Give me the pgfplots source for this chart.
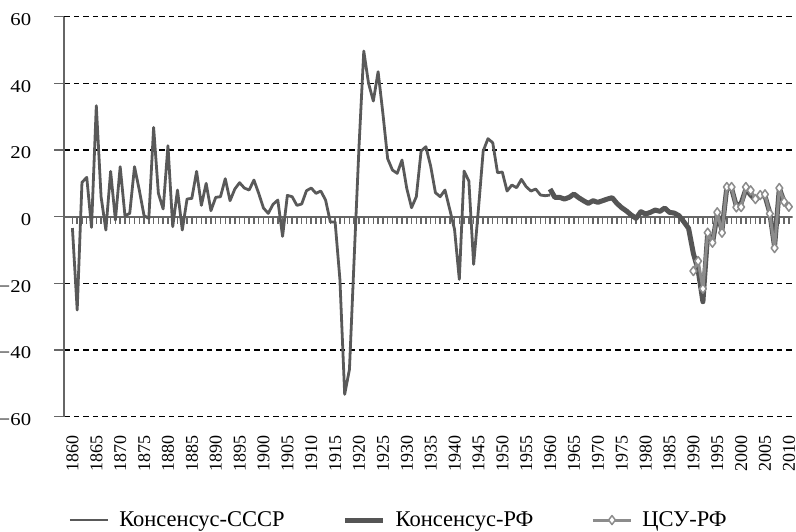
\documentclass[border=0pt]{standalone}
\usepackage{fontspec}
\setmainfont{Liberation Serif}
\newfontfamily\ytickfont{Liberation Serif}[FakeStretch=1.15]
\usepackage{pgfplots}
\pgfplotsset{compat=1.18}
\definecolor{cUSSR}{HTML}{595959}
\definecolor{cRF}{HTML}{555555}
\definecolor{cCSU}{HTML}{8C8C8C}
\definecolor{cAxis}{HTML}{666666}
\begin{document}
\begin{tikzpicture}
\path[use as bounding box] (-64.3bp,-115.3bp) rectangle (731.7bp,416.7bp);
% zero line with a small tick under every year
\begin{axis}[
  at={(0,0)}, anchor=south west,
  scale only axis, width=728.4bp, height=400bp,
  xmin=1858.3, xmax=2010.8, ymin=-60, ymax=60,
  axis lines=none, xtick=\empty, ytick=\empty,
]
\addplot[ycomb, no marks, cAxis, line width=1.5bp] coordinates {
(1860,-2.2) (1861,-2.2) (1862,-2.2) (1863,-2.2) (1864,-2.2) (1865,-2.2) (1866,-2.2) (1867,-2.2) (1868,-2.2) (1869,-2.2)
(1870,-2.2) (1871,-2.2) (1872,-2.2) (1873,-2.2) (1874,-2.2) (1875,-2.2) (1876,-2.2) (1877,-2.2) (1878,-2.2) (1879,-2.2)
(1880,-2.2) (1881,-2.2) (1882,-2.2) (1883,-2.2) (1884,-2.2) (1885,-2.2) (1886,-2.2) (1887,-2.2) (1888,-2.2) (1889,-2.2)
(1890,-2.2) (1891,-2.2) (1892,-2.2) (1893,-2.2) (1894,-2.2) (1895,-2.2) (1896,-2.2) (1897,-2.2) (1898,-2.2) (1899,-2.2)
(1900,-2.2) (1901,-2.2) (1902,-2.2) (1903,-2.2) (1904,-2.2) (1905,-2.2) (1906,-2.2) (1907,-2.2) (1908,-2.2) (1909,-2.2)
(1910,-2.2) (1911,-2.2) (1912,-2.2) (1913,-2.2) (1914,-2.2) (1915,-2.2) (1916,-2.2) (1917,-2.2) (1918,-2.2) (1919,-2.2)
(1920,-2.2) (1921,-2.2) (1922,-2.2) (1923,-2.2) (1924,-2.2) (1925,-2.2) (1926,-2.2) (1927,-2.2) (1928,-2.2) (1929,-2.2)
(1930,-2.2) (1931,-2.2) (1932,-2.2) (1933,-2.2) (1934,-2.2) (1935,-2.2) (1936,-2.2) (1937,-2.2) (1938,-2.2) (1939,-2.2)
(1940,-2.2) (1941,-2.2) (1942,-2.2) (1943,-2.2) (1944,-2.2) (1945,-2.2) (1946,-2.2) (1947,-2.2) (1948,-2.2) (1949,-2.2)
(1950,-2.2) (1951,-2.2) (1952,-2.2) (1953,-2.2) (1954,-2.2) (1955,-2.2) (1956,-2.2) (1957,-2.2) (1958,-2.2) (1959,-2.2)
(1960,-2.2) (1961,-2.2) (1962,-2.2) (1963,-2.2) (1964,-2.2) (1965,-2.2) (1966,-2.2) (1967,-2.2) (1968,-2.2) (1969,-2.2)
(1970,-2.2) (1971,-2.2) (1972,-2.2) (1973,-2.2) (1974,-2.2) (1975,-2.2) (1976,-2.2) (1977,-2.2) (1978,-2.2) (1979,-2.2)
(1980,-2.2) (1981,-2.2) (1982,-2.2) (1983,-2.2) (1984,-2.2) (1985,-2.2) (1986,-2.2) (1987,-2.2) (1988,-2.2) (1989,-2.2)
(1990,-2.2) (1991,-2.2) (1992,-2.2) (1993,-2.2) (1994,-2.2) (1995,-2.2) (1996,-2.2) (1997,-2.2) (1998,-2.2) (1999,-2.2)
(2000,-2.2) (2001,-2.2) (2002,-2.2) (2003,-2.2) (2004,-2.2) (2005,-2.2) (2006,-2.2) (2007,-2.2) (2008,-2.2) (2009,-2.2)
(2010,-2.2)
};
\addplot[cAxis, line width=2bp, no marks] coordinates {(1858.3,0) (2010.8,0)};
\end{axis}
\begin{axis}[
  at={(0,0)}, anchor=south west,
  scale only axis, width=728.4bp, height=400bp,
  xmin=1858.3, xmax=2010.8, ymin=-60, ymax=60,
  axis y line*=left, axis x line*=bottom,
  x axis line style={draw=none},
  y axis line style={cAxis, line width=2bp},
  ytick={-60,-40,-20,20,40,60},
  yticklabels={−60,−40,−20,20,40,60},
  extra y ticks={0}, extra y tick labels={0},
  extra y tick style={grid=none},
  yticklabel style={font=\ytickfont\fontsize{18bp}{19bp}\selectfont, inner sep=0pt, xshift=-23bp, yshift=-3bp},
  ytick style={cAxis, line width=1.5bp},
  tick align=outside, major tick length=10bp,
  xtick={1860,1865,...,2010},
  xticklabels={1860,1865,1870,1875,1880,1885,1890,1895,1900,1905,1910,1915,1920,1925,1930,1935,1940,1945,1950,1955,1960,1965,1970,1975,1980,1985,1990,1995,2000,2005,2010},
  xtick style={draw=none},
  xticklabel style={rotate=90, anchor=east, inner sep=0pt, text depth=0pt, font=\fontsize{18bp}{19bp}\selectfont},
  xticklabel shift=9bp,
  ymajorgrids,
  grid style={black, line width=1.2bp, dash pattern=on 5.5bp off 4bp},
  legend columns=3,
  legend style={draw=none, fill=none, at={(0.459,-0.2583)}, anchor=center,
    font=\fontsize{22.5bp}{24bp}\selectfont,
    /tikz/every odd column/.append style={column sep=8bp},
    /tikz/every even column/.append style={column sep=56bp},
    inner sep=0pt},
  legend image code/.code={\draw[mark repeat=2,mark phase=2,#1] plot coordinates {(0bp,0bp) (19bp,0bp) (38bp,0bp)};},
]
\addplot[cUSSR, line width=2.8bp, line join=round] coordinates {
(1860,-3.4) (1861,-28) (1862,10.3) (1863,11.8) (1864,-3.2) (1865,33.3) (1866,6) (1867,-4)
(1868,13.6) (1869,-1) (1870,15) (1871,0.3) (1872,1) (1873,15) (1874,8) (1875,0.3)
(1876,-0.5) (1877,26.8) (1878,7) (1879,2.3) (1880,21.3) (1881,-3) (1882,8) (1883,-4)
(1884,5.3) (1885,5.5) (1886,13.6) (1887,3.4) (1888,10) (1889,1.8) (1890,5.8) (1891,6)
(1892,11.4) (1893,4.8) (1894,8.3) (1895,10.2) (1896,8.6) (1897,8) (1898,11) (1899,7)
(1900,2.6) (1901,1) (1902,3.7) (1903,5) (1904,-5.9) (1905,6.4) (1906,6) (1907,3.4)
(1908,3.8) (1909,7.8) (1910,8.6) (1911,7) (1912,7.7) (1913,5) (1914,-1.6) (1915,-1.6)
(1916,-18.8) (1917,-53.3) (1918,-45.8) (1919,-12) (1920,21) (1921,49.7) (1922,40) (1923,34.7)
(1924,43.5) (1925,31) (1926,17.4) (1927,14) (1928,13) (1929,17) (1930,8.5) (1931,2.7)
(1932,6) (1933,19.7) (1934,21) (1935,15.2) (1936,7.2) (1937,6) (1938,8) (1939,2.2)
(1940,-3.8) (1941,-18.8) (1942,13.7) (1943,10.7) (1944,-14.3) (1945,2.2) (1946,19.7) (1947,23.4)
(1948,22.2) (1949,13.2) (1950,13.4) (1951,7.7) (1952,9.5) (1953,8.7) (1954,11.2) (1955,9)
(1956,7.7) (1957,8.3) (1958,6.5) (1959,6.3) (1960,6.5)
};
\addlegendentry{Консенсус-СССР}
\addplot[cRF, line width=5bp, line join=round] coordinates {
(1960,8.3) (1961,5.8) (1962,5.8) (1963,5.3) (1964,5.8) (1965,6.8) (1966,5.7) (1967,4.8)
(1968,4) (1969,4.8) (1970,4.3) (1971,4.8) (1972,5.3) (1973,5.7) (1974,4) (1975,2.7)
(1976,1.7) (1977,0.5) (1978,-0.5) (1979,1.5) (1980,0.8) (1981,1.3) (1982,2) (1983,1.6)
(1984,2.6) (1985,1.3) (1986,1.1) (1987,0.3) (1988,-1.5) (1989,-3.5) (1990,-11) (1991,-16)
(1992,-25.5) (1993,-5) (1994,-8) (1995,0.8) (1996,-4) (1997,8.7) (1998,8.5) (1999,3.2)
(2000,4) (2001,8.3) (2002,6.5) (2003,5) (2004,6.3) (2005,6.2) (2006,1.2) (2007,-9)
(2008,8.5) (2009,4.5) (2010,3)
};
\addlegendentry{Консенсус-РФ}
\addplot[cCSU, line width=3bp, line join=round, mark=diamond*, mark size=4.5bp,
  mark options={fill=white, draw=cCSU, line width=1.5bp}] coordinates {
(1990,-16.3) (1991,-13.3) (1992,-21.6) (1993,-4.8) (1994,-7.8) (1995,1.3) (1996,-4.8)
(1997,8.9) (1998,8.9) (1999,2.8) (2000,2.9) (2001,8.9) (2002,7.9) (2003,5.3) (2004,6.5)
(2005,6.7) (2006,0.9) (2007,-9.4) (2008,8.6) (2009,4.5) (2010,3)
};
\addlegendentry{ЦСУ-РФ}
\end{axis}
\end{tikzpicture}
\end{document}
